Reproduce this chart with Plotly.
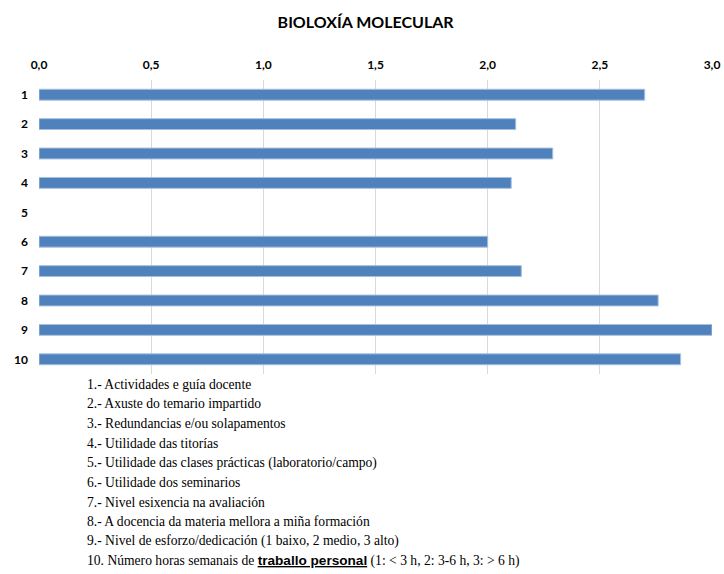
import plotly.graph_objects as go

# data
CATEGORIES :list[str] = ["1", "2", "3", "4", "5", "6", "7", "8", "9", "10"]
VALUES :list = [2.70, 2.125, 2.29, 2.105, None, 2.00, 2.15, 2.76, 3.00, 2.86]
X_TICK_VALUES :list[float] = [0.0, 0.5, 1.0, 1.5, 2.0, 2.5, 3.0]
X_TICK_LABELS :list[str] = ["0,0", "0,5", "1,0", "1,5", "2,0", "2,5", "3,0"]
TITLE :str = "BIOLOXÍA MOLECULAR"
NOTES :list[str] = [
    "1.- Actividades e guía docente",
    "2.- Axuste do temario impartido",
    "3.- Redundancias e/ou solapamentos",
    "4.- Utilidade das titorías",
    "5.- Utilidade das clases prácticas (laboratorio/campo)",
    "6.- Utilidade dos seminarios",
    "7.- Nivel esixencia na avaliación",
    "8.- A docencia da materia mellora a miña formación",
    "9.- Nivel de esforzo/dedicación (1 baixo, 2 medio, 3 alto)",
    "10. Número horas semanais de <span style=\"font-family:'Liberation Sans'\"><b><u>traballo personal</u></b></span> (1: < 3 h, 2: 3-6 h, 3: > 6 h)",
]

# style constants
BAR_COLOR :str = "#4f81bd"
GRID_COLOR :str = "#d9d9d9"
TITLE_FONT :str = "Lato"
NOTE_FONT :str = "Liberation Serif"
NOTE_LINE_STEP :float = 19.67

fig = go.Figure()
fig.add_trace(go.Bar(
    y=CATEGORIES,
    x=VALUES,
    orientation="h",
    width=0.37,
    marker_color=BAR_COLOR,
    marker_line_color="#a7c0de",
    marker_line_width=1,
))

for i, note in enumerate(NOTES):
    fig.add_annotation(
        text=note,
        xref="paper", yref="paper",
        x=0.068, y=0,
        xanchor="left", yanchor="middle",
        yshift=-(10 + i * NOTE_LINE_STEP),
        showarrow=False,
        font=dict(family=NOTE_FONT, size=13.6, color="#000000"),
    )

fig.update_layout(
    width=724,
    height=574,
    margin=dict(l=39, r=12, t=80, b=200),
    plot_bgcolor="white",
    paper_bgcolor="white",
    showlegend=False,
    title=dict(
        text="<b>" + TITLE + "</b>",
        x=0.505, xanchor="center",
        y=1 - 22 / 574, yanchor="middle",
        font=dict(family=TITLE_FONT, size=16, color="#000000"),
    ),
    xaxis=dict(
        side="top",
        range=[0, 3.0],
        tickvals=X_TICK_VALUES,
        ticktext=["<b>" + t + "</b>" for t in X_TICK_LABELS],
        tickfont=dict(family=TITLE_FONT, size=12, color="#000000"),
        showgrid=True,
        gridcolor=GRID_COLOR,
        gridwidth=1,
        zeroline=False,
        showline=False,
        ticks="",
        ticklabelstandoff=8,
        automargin=False,
    ),
    yaxis=dict(
        autorange="reversed",
        categoryorder="array",
        categoryarray=CATEGORIES,
        ticktext=["<b>" + c + "</b>" for c in CATEGORIES],
        tickvals=CATEGORIES,
        tickfont=dict(family=TITLE_FONT, size=12, color="#000000"),
        showgrid=False,
        zeroline=False,
        showline=False,
        ticks="",
        ticklabelstandoff=10,
        automargin=False,
    ),
)

# drop the default page margin so the figure sits at the window's corner
fig.write_html(
    "out.html",
    config={"displayModeBar": False},
    post_script="document.body.style.margin='0';",
)
